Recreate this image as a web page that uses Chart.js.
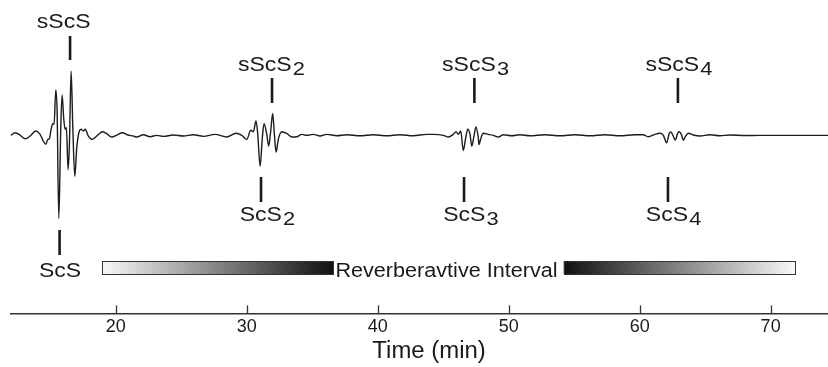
<!DOCTYPE html>
<html><head><meta charset="utf-8">
<script src="https://cdn.jsdelivr.net/npm/chart.js@4/dist/chart.umd.min.js"></script>
<style>html,body{margin:0;padding:0;background:#fff}#wrap{width:828px;height:367px}</style>
</head><body><div id="wrap"><canvas id="c" width="828" height="367"></canvas></div>
<script>
// ---- data ----
const traceTimes = [
 12.00,12.31,12.69,13.08,13.46,13.89,14.22,14.47,14.66,14.81,14.93,15.06,15.19,15.29,15.42,15.52,15.65,15.80,15.90,16.03,
 16.13,16.23,16.36,16.46,16.59,16.72,16.87,17.02,17.20,17.35,17.53,17.66,17.91,18.21,18.63,18.98,19.31,19.69,20.08,20.50,
 20.92,21.34,21.60,22.11,22.62,23.13,23.63,24.40,25.16,25.92,26.69,27.58,28.47,29.18,29.62,30.00,30.31,30.50,30.71,30.84,
 31.02,31.19,31.32,31.53,31.68,31.83,31.98,32.11,32.24,32.41,32.67,33.05,33.44,33.82,34.20,34.58,35.08,35.60,36.11,36.87,
 37.63,38.65,39.66,40.69,41.70,42.72,43.74,44.24,45.01,45.39,45.77,45.98,46.15,46.34,46.53,46.72,46.87,47.05,47.18,47.35,
 47.50,47.68,47.73,47.89,48.06,48.44,48.82,49.21,49.59,50.23,50.86,51.63,52.77,53.92,55.06,56.21,57.35,58.50,59.65,60.27,
 60.66,61.17,61.55,61.80,62.06,62.26,62.39,62.56,62.72,62.90,63.02,63.21,63.33,63.51,63.71,64.09,64.60,65.37,66.13,66.90,
 68.04,69.19,71.48,74.38
];
const traceAmps = [
 0,2.6,0.3,-3.4,-0.7,4.3,1.0,-5.7,-9.0,-4.0,-3.4,6.0,11.6,11.0,45.0,24.3,-82.4,7.6,40.0,16.0,
 6.0,7.6,-34.0,-9.0,63.6,7.6,-40.7,-12.4,3.6,6.0,4.3,6.0,-0.7,-4.0,0.3,3.6,1.6,-1.7,0.3,2.6,
 0.3,-0.7,-1.7,0.6,-1.4,0,-1.0,0.3,-0.7,0.6,-1.0,1.0,-1.7,2.0,0,-4.0,5.0,3.6,14.3,1.0,
 -30.7,-2.4,11.6,1.0,-10.7,4.3,21.6,1.0,-16.7,-4.0,3.6,2.0,-1.7,-1.4,1.0,0,1.0,-0.7,1.0,-0.4,
 0.6,-0.4,0.6,-0.4,0.6,-0.4,1.0,1.0,0,-1.7,1.0,3.6,1.0,4.3,-15.0,-2.4,6.0,1.0,-10.7,-0.7,
 8.3,-2.4,-9.0,-2.4,2.0,1.0,0,-1.7,0.6,-0.4,0.6,-0.4,0.6,-0.4,0.6,-0.4,0.6,-0.4,0.6,0.6,
 -1.4,1.0,2.0,0.3,-7.4,2.0,3.3,-0.7,-4.7,2.0,3.6,0,-5.0,-0.7,2.0,0.3,-0.7,0.6,-0.4,0.4,
 -0.2,0,0,0
];
const xTickValues = [20,30,40,50,60,70];
const xAxisTitle = 'Time (min)';
const xAxisTitleTime = 43.92;
const upperPhaseNames = ['sScS','sScS','sScS','sScS'];
const upperPhaseSubs  = ['','2','3','4'];
const upperPhaseTimes = [16.51,31.93,47.38,62.92];
const upperLabelTimes = [16.02,31.89,47.47,63.00];
const lowerPhaseNames = ['ScS','ScS','ScS','ScS'];
const lowerPhaseSubs  = ['','2','3','4'];
const lowerPhaseTimes = [15.71,31.09,46.59,62.16];
const lowerLabelTimes = [15.75,31.58,47.12,62.59];
const intervalLabel = 'Reverberavtive Interval';
const intervalLabelTime = 45.25;
const intervalBarStarts = [18.93,54.20];
const intervalBarEnds   = [36.59,71.85];
const intervalBarFade   = ['toDark','toLight'];

// ---- drawing ----
const FONT = "'Liberation Sans', Arial, Helvetica, sans-serif";
const INK = '#1a1a1a';

function drawLabel(ctx, main, sub, cx, baseY, size, sx) {
  ctx.save();
  ctx.font = size + 'px ' + FONT;
  const wMain = ctx.measureText(main).width;
  const subSize = Math.round(size * 0.95);
  ctx.font = subSize + 'px ' + FONT;
  const wSub = sub ? ctx.measureText(sub).width + 1 : 0;
  const total = (wMain + wSub) * sx;
  ctx.translate(cx - total / 2, baseY);
  ctx.scale(sx, 1);
  ctx.fillStyle = INK;
  ctx.textAlign = 'left';
  ctx.textBaseline = 'alphabetic';
  ctx.font = size + 'px ' + FONT;
  ctx.fillText(main, 0, 0);
  if (sub) { ctx.font = subSize + 'px ' + FONT; ctx.fillText(sub, wMain + 1, 4); }
  ctx.restore();
}
function vline(ctx, x, y0, y1, w, color) {
  ctx.save(); ctx.strokeStyle = color; ctx.lineWidth = w;
  ctx.beginPath(); ctx.moveTo(x, y0); ctx.lineTo(x, y1); ctx.stroke(); ctx.restore();
}

const annotations = {
  id: 'annotations',
  afterDraw(chart) {
    const ctx = chart.ctx, xs = chart.scales.x, area = chart.chartArea;
    xTickValues.forEach(v => {
      const x = Math.round(xs.getPixelForValue(v)) + 0.5;
      vline(ctx, x, area.bottom - 8, area.bottom, 1.3, '#333');
    });
    upperPhaseNames.forEach((name, i) => {
      const first = i === 0;
      const tx = xs.getPixelForValue(upperPhaseTimes[i]);
      vline(ctx, tx, first ? 36 : 78, first ? 60 : 103, 2.6, INK);
      drawLabel(ctx, name, upperPhaseSubs[i], xs.getPixelForValue(upperLabelTimes[i]), first ? 28 : 71, 20, 1.15);
    });
    lowerPhaseNames.forEach((name, i) => {
      const first = i === 0;
      const tx = xs.getPixelForValue(lowerPhaseTimes[i]);
      vline(ctx, tx, first ? 230 : 177, first ? 255 : 202, 2.6, INK);
      drawLabel(ctx, name, lowerPhaseSubs[i], xs.getPixelForValue(lowerLabelTimes[i]), first ? 277 : 221, 20, 1.15);
    });
    intervalBarStarts.forEach((t0, i) => {
      const x0 = xs.getPixelForValue(t0), x1 = xs.getPixelForValue(intervalBarEnds[i]);
      const y0 = 261, h = 13;
      const g = ctx.createLinearGradient(x0, 0, x1, 0);
      const light = '#f8f8f8', dark = '#111111';
      if (intervalBarFade[i] === 'toDark') { g.addColorStop(0, light); g.addColorStop(1, dark); }
      else { g.addColorStop(0, dark); g.addColorStop(1, light); }
      ctx.save();
      ctx.fillStyle = g; ctx.fillRect(x0, y0, x1 - x0, h);
      ctx.strokeStyle = '#333'; ctx.lineWidth = 1;
      ctx.strokeRect(Math.round(x0) + 0.5, y0 + 0.5, Math.round(x1 - x0), h);
      ctx.restore();
    });
    drawLabel(ctx, intervalLabel, '', xs.getPixelForValue(intervalLabelTime), 276.5, 20, 1.08);
    drawLabel(ctx, xAxisTitle, '', xs.getPixelForValue(xAxisTitleTime), 358, 23, 1.04);
  }
};

new Chart(document.getElementById('c'), {
  type: 'line',
  data: {
    labels: traceTimes,
    datasets: [{
      data: traceTimes.map((t, i) => ({ x: t, y: traceAmps[i] })),
      borderColor: '#1c1c1c',
      borderWidth: 1.4,
      pointRadius: 0,
      cubicInterpolationMode: 'monotone',
      fill: false,
      clip: false
    }]
  },
  options: {
    responsive: false,
    animation: false,
    devicePixelRatio: 1,
    layout: { padding: { left: 11, right: 0, top: 0, bottom: 26 } },
    plugins: { legend: { display: false }, tooltip: { enabled: false } },
    scales: {
      x: {
        type: 'linear', min: 12, max: 74.38,
        afterBuildTicks: s => { s.ticks = xTickValues.map(v => ({ value: v })); },
        grid: { display: false, drawTicks: false },
        border: { display: true, color: '#333', width: 1.5 },
        ticks: { padding: 3, color: INK, font: { family: FONT, size: 18 }, maxRotation: 0 }
      },
      y: { display: false, min: -176.7, max: 134.3 }
    }
  },
  plugins: [annotations]
});
</script>
</body></html>
